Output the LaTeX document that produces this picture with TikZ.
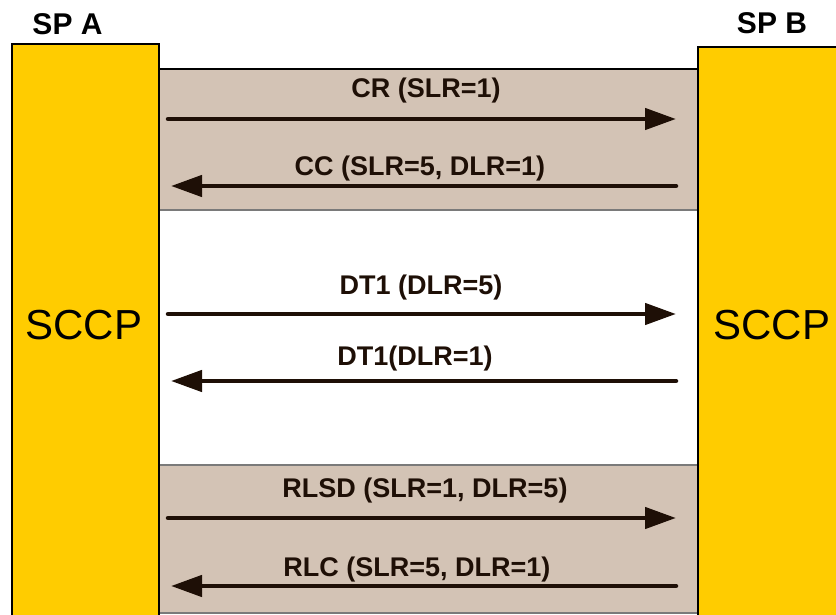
\documentclass[tikz,border=0pt]{standalone}
\usepackage{fontspec}
\setmainfont{Liberation Sans}
\usetikzlibrary{arrows.meta}
\definecolor{sccpyellow}{HTML}{FFCC00}
\definecolor{bandtan}{HTML}{D3C3B5}
\definecolor{msgbrown}{HTML}{1E0F06}
\definecolor{edgegray}{HTML}{7A7A7A}
\begin{document}
\begin{tikzpicture}[x=1pt,y=-1pt,
  bar/.style={draw=black,line width=1.6pt,fill=sccpyellow},
  band/.style={fill=bandtan},
  msg/.style={draw=msgbrown,line width=4.5pt,line cap=round,
              -{Triangle[length=31pt,width=21pt]}},
  lbl/.style={font=\bfseries\fontsize{27}{31}\selectfont,text=msgbrown,
              anchor=base,inner sep=0pt},
  head/.style={font=\bfseries\fontsize{30}{34}\selectfont,anchor=base,inner sep=0pt},
  layer/.style={font=\fontsize{42}{47}\selectfont,anchor=base,inner sep=0pt}]
\useasboundingbox (0,0) rectangle (836,615);

% shaded phases: connection set-up and release
\fill[band] (159,69) rectangle (698,210);
\draw[black,line width=1.5pt] (159,69) -- (698,69);
\draw[edgegray,line width=2pt] (159,210) -- (698,210);
\fill[band] (159,465) rectangle (698,613);
\draw[edgegray,line width=2pt] (159,465) -- (698,465);
\draw[edgegray,line width=2pt] (159,613) -- (698,613);

% signalling points
\draw[bar] (12,44) rectangle (159,640);
\draw[bar] (698,47) rectangle (860,640);
\node[head] (spa) at (67.5,35) {SP A};
\node[head] (spb) at (772,34) {SP B};
\node[layer] (sccpa) at (84,339) {SCCP};
\node[layer] (sccpb) at (772,339) {SCCP};

% message end points
\coordinate (cr1) at (168,119);  \coordinate (cr2) at (676,119);
\coordinate (cc1) at (676,186);  \coordinate (cc2) at (171,186);
\coordinate (da1) at (168,314);  \coordinate (da2) at (676,314);
\coordinate (db1) at (676,381);  \coordinate (db2) at (171,381);
\coordinate (rl1) at (168,518);  \coordinate (rl2) at (676,518);
\coordinate (rc1) at (676,586);  \coordinate (rc2) at (171,586);

% messages
\draw[msg] (cr1) -- (cr2);
\draw[msg] (cc1) -- (cc2);
\draw[msg] (da1) -- (da2);
\draw[msg] (db1) -- (db2);
\draw[msg] (rl1) -- (rl2);
\draw[msg] (rc1) -- (rc2);

% message labels
\node[lbl] (lcr) at (426,98) {CR (SLR=1)};
\node[lbl] (lcc) at (420,176) {CC (SLR=5, DLR=1)};
\node[lbl] (lda) at (421,294) {DT1 (DLR=5)};
\node[lbl] (ldb) at (415,365) {DT1(DLR=1)};
\node[lbl] (lrl) at (425,497) {RLSD (SLR=1, DLR=5)};
\node[lbl] (lrc) at (417,576) {RLC (SLR=5, DLR=1)};
\end{tikzpicture}
\end{document}
